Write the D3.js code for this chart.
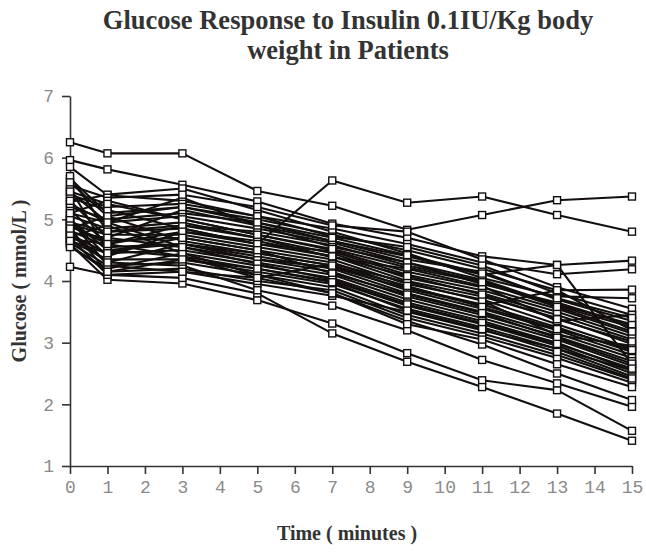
<!DOCTYPE html>
<html>
<head>
<meta charset="utf-8">
<script src="https://cdn.jsdelivr.net/npm/d3@7"></script>
<style>
  html, body { margin: 0; padding: 0; background: #fff; }
  svg { display: block; }
</style>
</head>
<body>
<svg id="chart" width="646" height="552"></svg>
<script>
// Sampling times (minutes) after the insulin dose
const times = [0, 1, 3, 5, 7, 9, 11, 13, 15];

// Axis tick values
const xTicks = [0, 1, 2, 3, 4, 5, 6, 7, 8, 9, 10, 11, 12, 13, 14, 15];
const yTicks = [1, 2, 3, 4, 5, 6, 7];

// Glucose (mmol/L) per patient, one value per sampling time
const p01 = [6.25, 6.07, 6.07, 5.46, 5.22, 4.83, 5.07, 5.31, 5.37];
const p02 = [4.95, 4.80, 4.85, 4.60, 5.63, 5.27, 5.37, 5.07, 4.80];
const p03 = [5.96, 5.81, 5.56, 5.29, 4.93, 4.70, 4.40, 4.26, 4.33];
const p04 = [5.85, 5.39, 5.30, 5.05, 4.85, 4.60, 4.30, 4.11, 4.19];
const p05 = [5.66, 5.10, 5.20, 5.00, 4.75, 4.50, 4.20, 3.85, 3.86];
const p06 = [5.45, 4.95, 5.35, 4.90, 4.65, 4.40, 4.10, 4.26, 2.65];
const p07 = [5.28, 5.40, 5.50, 5.15, 4.80, 4.45, 4.05, 3.75, 3.72];
const p08 = [4.23, 4.10, 4.15, 3.95, 3.76, 3.50, 3.20, 2.90, 2.55];
const p09 = [4.60, 4.02, 3.96, 3.69, 3.31, 2.83, 2.39, 2.23, 1.57];
const p10 = [4.70, 4.10, 4.05, 3.80, 3.15, 2.69, 2.28, 1.85, 1.41];
const p11 = [4.80, 4.30, 4.25, 3.85, 3.60, 3.20, 2.72, 2.34, 1.96];
const p12 = [5.00, 4.50, 4.40, 4.05, 3.80, 3.35, 2.97, 2.50, 2.07];
const p13 = [5.55, 5.35, 5.40, 5.20, 4.90, 4.80, 4.35, 3.90, 3.55];
const p14 = [5.40, 5.20, 5.25, 5.05, 4.72, 4.55, 4.25, 3.80, 3.45];
const p15 = [5.20, 5.00, 5.10, 4.95, 4.65, 4.35, 4.15, 3.70, 3.35];
const p16 = [5.15, 4.60, 4.90, 4.80, 4.58, 4.25, 4.00, 3.60, 3.25];
const p17 = [5.10, 5.30, 5.00, 4.75, 4.50, 4.15, 3.90, 3.55, 3.15];
const p18 = [5.05, 4.85, 4.95, 4.70, 4.45, 4.05, 3.80, 3.45, 3.05];
const p19 = [4.98, 4.40, 4.80, 4.65, 4.40, 4.00, 3.75, 3.40, 2.98];
const p20 = [4.92, 4.75, 4.75, 4.55, 4.35, 3.95, 3.70, 3.30, 2.90];
const p21 = [4.88, 4.65, 4.70, 4.50, 4.30, 3.90, 3.62, 3.25, 2.85];
const p22 = [4.85, 5.05, 4.65, 4.45, 4.25, 3.85, 3.55, 3.20, 2.80];
const p23 = [4.82, 4.55, 4.60, 4.40, 4.20, 3.80, 3.50, 3.15, 2.75];
const p24 = [4.78, 4.70, 4.55, 4.35, 4.15, 3.75, 3.45, 3.10, 2.70];
const p25 = [4.75, 4.45, 4.50, 4.30, 4.10, 3.70, 3.40, 3.05, 2.62];
const p26 = [4.72, 4.90, 4.45, 4.25, 4.05, 3.65, 3.35, 3.00, 2.55];
const p27 = [4.68, 4.60, 4.40, 4.20, 4.00, 3.60, 3.30, 2.95, 2.50];
const p28 = [4.65, 4.35, 4.35, 4.15, 3.95, 3.55, 3.25, 2.90, 2.45];
const p29 = [4.62, 4.25, 4.30, 4.10, 3.90, 3.45, 3.15, 2.80, 2.40];
const p30 = [4.58, 4.15, 4.20, 4.00, 3.85, 3.40, 3.10, 2.75, 2.35];
const p31 = [4.55, 4.20, 4.45, 4.10, 3.80, 3.30, 3.05, 2.65, 2.28];
const p32 = [5.35, 5.15, 4.85, 4.60, 4.48, 4.10, 3.85, 3.50, 3.10];
const p33 = [5.25, 4.95, 5.05, 4.85, 4.62, 4.30, 3.95, 3.65, 3.28];
const p34 = [5.70, 4.80, 4.90, 4.70, 4.38, 4.20, 3.92, 3.35, 3.45];
const p35 = [5.50, 4.50, 4.60, 4.35, 4.22, 3.88, 3.60, 3.85, 3.20];
const p36 = [5.00, 4.25, 4.15, 4.05, 4.28, 3.98, 3.68, 3.12, 2.95];
const p37 = [5.30, 4.70, 5.15, 4.90, 4.55, 4.30, 4.02, 3.62, 3.30];
const p38 = [4.90, 4.60, 4.80, 4.60, 4.40, 4.08, 3.78, 3.38, 3.02];
const p39 = [4.75, 4.30, 4.60, 4.45, 4.25, 3.92, 3.58, 3.22, 2.88];
const p40 = [5.60, 5.05, 5.20, 4.95, 4.70, 4.42, 4.12, 3.72, 3.40];
const p41 = [4.65, 4.45, 4.70, 4.50, 4.12, 3.78, 3.48, 3.08, 2.66];
const p42 = [5.10, 4.95, 4.55, 4.28, 4.02, 3.62, 3.32, 2.98, 2.58];
const p43 = [4.85, 4.15, 4.35, 4.20, 3.98, 3.52, 3.22, 2.85, 2.42];
const p44 = [5.45, 5.25, 5.00, 4.75, 4.52, 4.22, 3.98, 3.58, 3.18];

const patients = [p01, p02, p03, p04, p05, p06, p07, p08, p09, p10, p11, p12,
                  p13, p14, p15, p16, p17, p18, p19, p20, p21, p22, p23, p24,
                  p25, p26, p27, p28, p29, p30, p31, p32, p33, p34, p35, p36,
                  p37, p38, p39, p40, p41, p42, p43, p44];

const titleLines = ["Glucose Response to Insulin 0.1IU/Kg body", "weight in Patients"];
const xTitle = "Time ( minutes )";
const yTitle = "Glucose ( mmol/L )";

const svg = d3.select("#chart");

const x = d3.scaleLinear().domain([0, 15]).range([70, 632]);
const y = d3.scaleLinear().domain([1, 7]).range([466, 96]);

const serif = "'Liberation Serif', 'Times New Roman', serif";
const mono = "'Liberation Mono', 'Courier New', monospace";

// Title
svg.append("g")
  .selectAll("text")
  .data(titleLines)
  .join("text")
  .attr("x", 348)
  .attr("y", (d, i) => 29 + i * 30)
  .attr("text-anchor", "middle")
  .attr("font-family", serif)
  .attr("font-weight", "bold")
  .attr("font-size", 26.5)
  .attr("fill", "#333")
  .text(d => d);

// Axes
const xAxis = svg.append("g")
  .attr("transform", `translate(0,${y(1)})`)
  .call(d3.axisBottom(x).tickValues(xTicks).tickFormat(d3.format("d"))
    .tickSize(8).tickSizeOuter(0).tickPadding(6));

const yAxis = svg.append("g")
  .attr("transform", `translate(${x(0)},0)`)
  .call(d3.axisLeft(y).tickValues(yTicks).tickFormat(d3.format("d"))
    .tickSize(8).tickSizeOuter(0).tickPadding(8));

[xAxis, yAxis].forEach(g => {
  g.select(".domain").attr("stroke", "#333").attr("stroke-width", 1.6);
  g.selectAll(".tick line").attr("stroke", "#333").attr("stroke-width", 1.6);
  g.selectAll(".tick text")
    .attr("font-family", mono)
    .attr("font-size", 18)
    .attr("fill", "#8a8a8a");
});

// Axis titles
svg.append("text")
  .attr("x", 347)
  .attr("y", 540)
  .attr("text-anchor", "middle")
  .attr("font-family", serif)
  .attr("font-weight", "bold")
  .attr("font-size", 20)
  .attr("fill", "#333")
  .text(xTitle);

svg.append("text")
  .attr("transform", "translate(26,281) rotate(-90)")
  .attr("text-anchor", "middle")
  .attr("font-family", serif)
  .attr("font-weight", "bold")
  .attr("font-size", 20)
  .attr("fill", "#333")
  .text(yTitle);

// Patient curves
const line = d3.line()
  .x((d, i) => x(times[i]))
  .y(d => y(d));

svg.append("g")
  .selectAll("path")
  .data(patients)
  .join("path")
  .attr("d", line)
  .attr("fill", "none")
  .attr("stroke", "#140f0f")
  .attr("stroke-width", 2.1)
  .attr("stroke-linejoin", "round");

// Square markers at each sample
const s = 7;
svg.append("g")
  .selectAll("g")
  .data(patients)
  .join("g")
  .selectAll("rect")
  .data(d => d)
  .join("rect")
  .attr("x", (d, i) => x(times[i]) - s / 2)
  .attr("y", d => y(d) - s / 2)
  .attr("width", s)
  .attr("height", s)
  .attr("fill", "#fff")
  .attr("stroke", "#140f0f")
  .attr("stroke-width", 1.4);
</script>
</body>
</html>
